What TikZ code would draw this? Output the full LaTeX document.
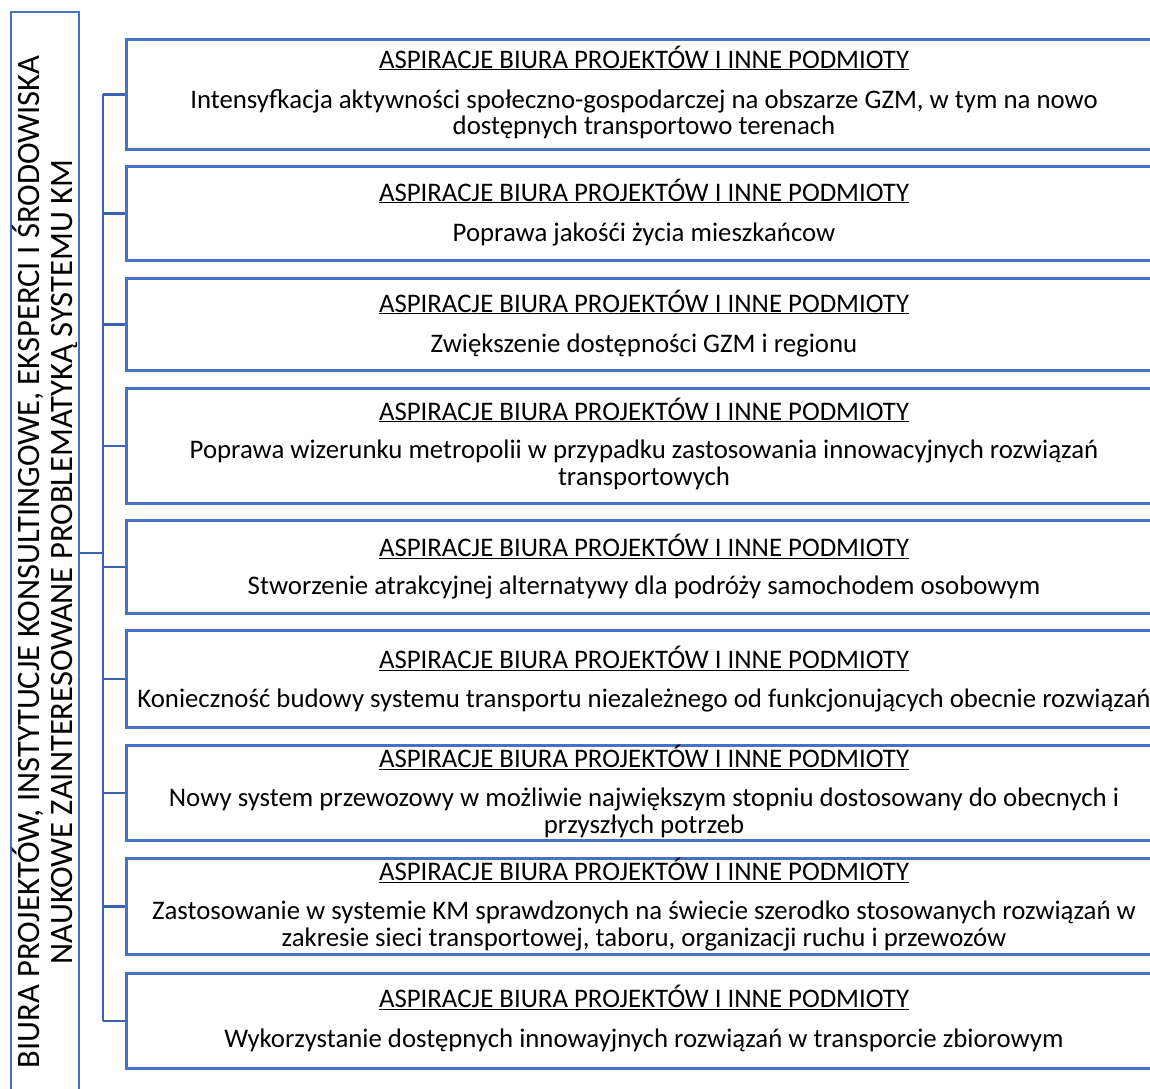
\documentclass[tikz,border=0pt]{standalone}
\usepackage{fontspec}
\setmainfont{Carlito}
\definecolor{boxblue}{RGB}{68,114,196}
\definecolor{linkblue}{RGB}{58,98,176}
\begin{document}
\begin{tikzpicture}[x=1pt,y=-1pt,
  box/.style={draw=boxblue, line width=2.6pt, anchor=north west, inner sep=0pt, minimum width=1038pt},
  link/.style={draw=linkblue, line width=2.8pt},
  head/.style={font=\fontsize{26.8}{26.5}\selectfont, inner sep=0pt},
  body/.style={font=\fontsize{26.8}{26.5}\selectfont, align=center, inner sep=0pt},
  side/.style={draw=boxblue, line width=2.6pt, minimum width=1100pt, minimum height=68pt, inner sep=0pt, rotate=90,
    font=\fontsize{32.6}{33.5}\selectfont, align=center}]
\useasboundingbox (0,0) rectangle (1150,1088);
\clip (0,0) rectangle (1150,1088);
\fill[white] (0,0) rectangle (1150,1088);

% stakeholder group, rotated
\node[side] (grp) at (45,562) {BIURA PROJEKTÓW, INSTYTUCJE KONSULTINGOWE, EKSPERCI I ŚRODOWISKA\\NAUKOWE ZAINTERESOWANE PROBLEMATYKĄ SYSTEMU KM};

% aspiration boxes
\node[box, minimum height=110pt] (b1) at (125,38) {};
\node[box, minimum height=94pt]  (b2) at (125,165) {};
\node[box, minimum height=92pt]  (b3) at (125,277) {};
\node[box, minimum height=115pt] (b4) at (125,387) {};
\node[box, minimum height=93pt]  (b5) at (125,519) {};
\node[box, minimum height=97pt]  (b6) at (125,629) {};
\node[box, minimum height=95pt]  (b7) at (125,744) {};
\node[box, minimum height=96pt]  (b8) at (125,857) {};
\node[box, minimum height=95pt]  (b9) at (125,972) {};

\newcommand{\hdr}{\underline{ASPIRACJE BIURA PROJEKTÓW I INNE PODMIOTY}}

\node[head] (h1) at (644,58)  {\hdr};
\node[body] (t1) at (644,114) {Intensyfkacja aktywności społeczno-gospodarczej na obszarze GZM, w tym na nowo\\dostępnych transportowo terenach};
\node[head] (h2) at (644,191) {\hdr};
\node[body] (t2) at (644,234) {Poprawa jakośći życia mieszkańcow};
\node[head] (h3) at (644,302) {\hdr};
\node[body] (t3) at (644,345) {Zwiększenie dostępności GZM i regionu};
\node[head] (h4) at (644,410) {\hdr};
\node[body] (t4) at (644,465) {Poprawa wizerunku metropolii w przypadku zastosowania innowacyjnych rozwiązań\\transportowych};
\node[head] (h5) at (644,546) {\hdr};
\node[body] (t5) at (644,587) {Stworzenie atrakcyjnej alternatywy dla podróży samochodem osobowym};
\node[head] (h6) at (644,658) {\hdr};
\node[body] (t6) at (644,700) {Konieczność budowy systemu transportu niezależnego od funkcjonujących obecnie rozwiązań};
\node[head] (h7) at (644,757) {\hdr};
\node[body] (t7) at (644,813) {Nowy system przewozowy w możliwie największym stopniu dostosowany do obecnych i\\przyszłych potrzeb};
\node[head] (h8) at (644,870) {\hdr};
\node[body] (t8) at (644,926) {Zastosowanie w systemie KM sprawdzonych na świecie szerodko stosowanych rozwiązań w\\zakresie sieci transportowej, taboru, organizacji ruchu i przewozów};
\node[head] (h9) at (644,997) {\hdr};
\node[body] (t9) at (644,1040) {Wykorzystanie dostępnych innowayjnych rozwiązań w transporcie zbiorowym};

% connector bus
\coordinate (bus) at (103,553);
\draw[link] (grp.south |- bus) -- (bus);
\draw[link] (b1.west -| bus) -- (b9.west -| bus);
\foreach \i in {1,...,9} {
  \draw[link, line width=2.4pt] (b\i.west -| bus) -- (b\i.west);
}
\end{tikzpicture}
\end{document}
